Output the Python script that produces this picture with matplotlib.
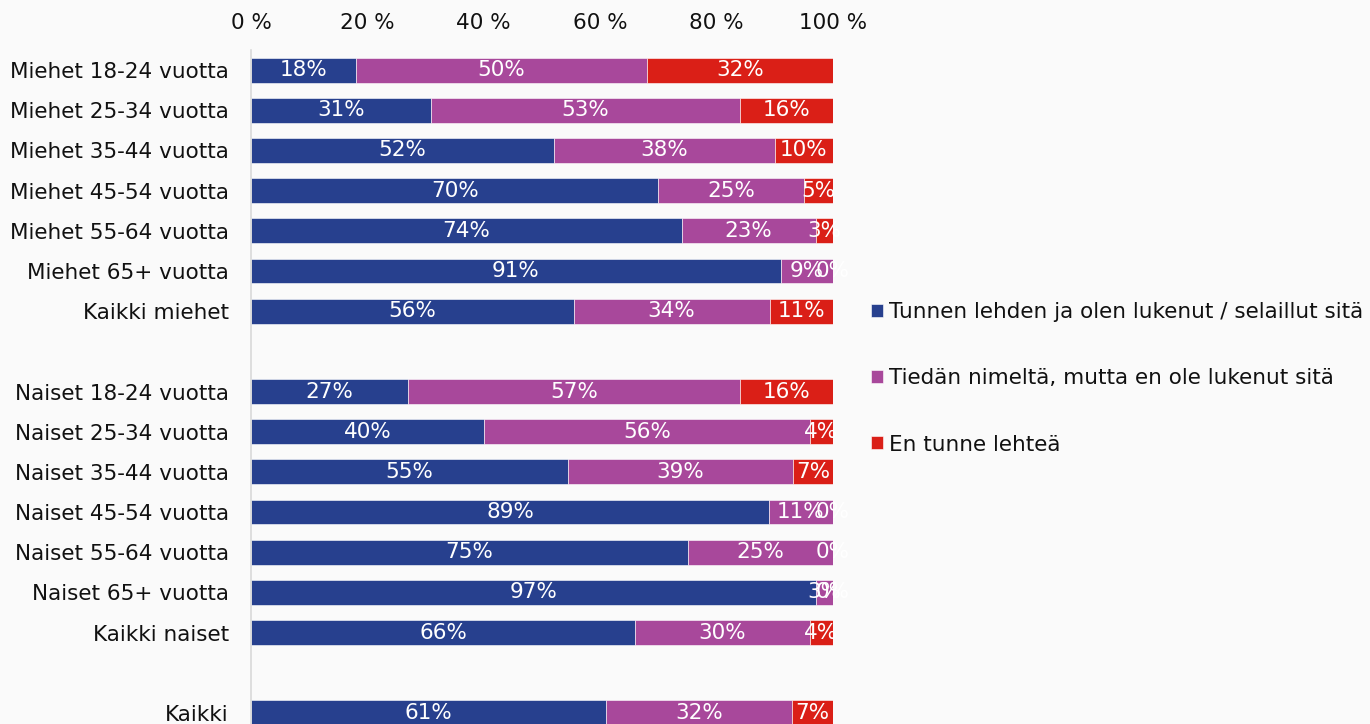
import matplotlib
matplotlib.use("Agg")
import matplotlib.pyplot as plt
import numpy as np

categories = ["Miehet 18-24 vuotta", "Miehet 25-34 vuotta", "Miehet 35-44 vuotta",
              "Miehet 45-54 vuotta", "Miehet 55-64 vuotta", "Miehet 65+ vuotta",
              "Kaikki miehet", "",
              "Naiset 18-24 vuotta", "Naiset 25-34 vuotta", "Naiset 35-44 vuotta",
              "Naiset 45-54 vuotta", "Naiset 55-64 vuotta", "Naiset 65+ vuotta",
              "Kaikki naiset", "", "Kaikki"]

tunnen = [18, 31, 52, 70, 74, 91, 56, None, 27, 40, 55, 89, 75, 97, 66, None, 61]
tiedan = [50, 53, 38, 25, 23, 9, 34, None, 57, 56, 39, 11, 25, 3, 30, None, 32]
en_tunne = [32, 16, 10, 5, 3, 0, 11, None, 16, 4, 7, 0, 0, 0, 4, None, 7]

series_names = ["Tunnen lehden ja olen lukenut / selaillut sitä",
                "Tiedän nimeltä, mutta en ole lukenut sitä",
                "En tunne lehteä"]
colors = ["#27408E", "#A8489B", "#DA1F17"]
xticks = [0, 20, 40, 60, 80, 100]
xtick_labels = ["0 %", "20 %", "40 %", "60 %", "80 %", "100 %"]

FS = 15.5
W, H = 1370, 724
fig = plt.figure(figsize=(W / 100, H / 100), dpi=100)
fig.patch.set_facecolor("#FAFAFA")
left, right = 251 / W, 833 / W
top_px, bot_px = 50, 733
ax = fig.add_axes([left, (H - bot_px) / H, right - left, (bot_px - top_px) / H])
ax.set_facecolor("#FAFAFA")

series = [tunnen, tiedan, en_tunne]
for i in range(len(categories)):
    if tunnen[i] is None:
        continue
    vals = [s[i] for s in series]
    total = sum(vals)
    cum = 0.0
    for j, v in enumerate(vals):
        w = v / total * 100
        ax.barh(i, w, left=cum, height=0.62, color=colors[j],
                edgecolor="white", linewidth=0.4,
                label=series_names[j] if i == 0 else None)
        ax.text(cum + w / 2, i, f"{v}%", ha="center", va="center",
                color="white", fontsize=FS)
        cum += w

ax.set_xlim(0, 100)
ax.set_ylim(len(categories) - 0.5, -0.5)
ax.xaxis.tick_top()
ax.tick_params(axis="both", length=0, labelcolor="#111111")
ax.tick_params(axis="x", pad=12, labelsize=FS)
ax.tick_params(axis="y", pad=16, labelsize=FS)
ax.set_yticks(range(len(categories)))
ax.set_yticklabels(categories)
ax.set_xticks(xticks)
ax.set_xticklabels(xtick_labels)
for s in ["top", "right", "bottom"]:
    ax.spines[s].set_visible(False)
ax.spines["left"].set_color("#D9D9D9")
ax.spines["left"].set_linewidth(1.2)

handles, labels = ax.get_legend_handles_labels()
leg = fig.legend(handles, labels, loc="upper left", bbox_to_anchor=(871 / W, (H - 302) / H),
                 frameon=False, fontsize=FS, handlelength=0.55, handleheight=0.55,
                 handletextpad=0.3, labelspacing=2.15, borderaxespad=0, borderpad=0)
for t in leg.get_texts():
    t.set_color("#111111")

fig.savefig("out.png", dpi=100, facecolor=fig.get_facecolor())
